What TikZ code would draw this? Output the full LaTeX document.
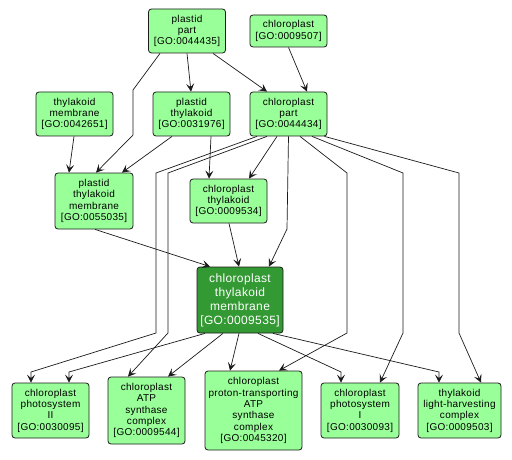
\documentclass[tikz,border=0pt]{standalone}
\usepackage{fontspec}
\setsansfont{Liberation Sans}[LetterSpace=3]
\usepackage{tikz}
\usetikzlibrary{positioning,arrows.meta,calc}
\definecolor{ink}      {HTML}{1A1A1A}
\definecolor{leaf}     {HTML}{99FF99}
\definecolor{forest}   {HTML}{339933}
\tikzset{
  >=stealth,
  % --- nodes
  term/.style  = {rounded corners=3pt, draw=ink, fill=leaf, align=center,
                  inner sep=2pt, line width=0.8pt, minimum width=77pt,
                  font=\sffamily\fontsize{10}{11.3}\selectfont},
  hit/.style   = {term, fill=forest, text=white, minimum width=86pt,
                  font=\sffamily\fontsize{12}{14}\selectfont},
  % --- edges
  e/.style     = {-{Stealth[length=8pt,width=8pt,inset=3.5pt]}, line width=0.7pt, draw=ink},
}
\begin{document}
\begin{tikzpicture}[x=1pt,y=-1pt]
  \useasboundingbox[fill=white] (0,0) rectangle (512,460);
  % --- top rows
  \node[term,minimum height=44pt] (pp)  at (187,31)    {plastid\\part\\{[GO:0044435]}};
  \node[term,minimum height=32pt] (cl)  at (288.5,31)  {chloroplast\\{[GO:0009507]}};
  \node[term,minimum height=44pt] (tm)  at (74.5,114)  {thylakoid\\membrane\\{[GO:0042651]}};
  \node[term,minimum height=44pt] (pt)  at (191.5,114) {plastid\\thylakoid\\{[GO:0031976]}};
  \node[term,minimum height=44pt] (cp)  at (288.5,114) {chloroplast\\part\\{[GO:0044434]}};
  \node[term,minimum height=56pt,minimum width=78pt] (ptm) at (94,201)
        {plastid\\thylakoid\\membrane\\{[GO:0055035]}};
  \node[term,minimum height=44pt] (ct)  at (228.5,201) {chloroplast\\thylakoid\\{[GO:0009534]}};
  % --- focus term
  \node[hit,minimum height=66pt] (ctm) at (240,300)
        {chloroplast\\thylakoid\\membrane\\{[GO:0009535]}};
  % --- bottom row
  \node[term,minimum height=55pt] (ps2) at (50.5,410.5) {chloroplast\\photosystem\\II\\{[GO:0030095]}};
  \node[term,minimum height=67pt] (atp) at (146.5,410.5)
        {chloroplast\\ATP\\synthase\\complex\\{[GO:0009544]}};
  \node[term,minimum height=79pt,minimum width=97pt] (prot) at (253.5,410.5)
        {chloroplast\\proton-transporting\\ATP\\synthase\\complex\\{[GO:0045320]}};
  \node[term,minimum height=55pt,minimum width=78pt] (ps1) at (360,410.5)
        {chloroplast\\photosystem\\I\\{[GO:0030093]}};
  \node[term,minimum height=55pt,minimum width=83pt] (lhc) at (459.5,410.5)
        {thylakoid\\light-harvesting\\complex\\{[GO:0009503]}};
  % --- edges into the upper terms
  \draw[e] ([xshift=-27pt]pp.south) -- (133,90) -- (133,135) -- ([xshift=2pt]ptm.north);
  \draw[e] (pp.south) -- ([xshift=-0.5pt]pt.north);
  \draw[e] ([xshift=26pt]pp.south) -- ([xshift=-21.5pt]cp.north);
  \draw[e] (cl.south) -- ([xshift=18.5pt]cp.north);
  \draw[e] ([xshift=-0.5pt]tm.south) -- ([xshift=-25pt]ptm.north);
  \draw[e] ([xshift=-19.5pt]pt.south) -- ([xshift=28pt]ptm.north);
  \draw[e] ([xshift=19.5pt]pt.south) -- ([xshift=-19.5pt]ct.north);
  \draw[e] ([xshift=-11.5pt]cp.south) -- ([xshift=20.5pt]ct.north);
  \draw[e] (cp.south) -- (287,229) -- ([xshift=29pt]ctm.north);
  \draw[e] ([xshift=1pt]ptm.south) -- ([xshift=-30pt]ctm.north);
  \draw[e] ([xshift=0.5pt]ct.south) -- ([xshift=-1pt]ctm.north);
  % --- long edges from chloroplast part
  \draw[e] ([xshift=-31.5pt]cp.south) -- (156,173) -- (156,333) -- (31,372) -- ([xshift=-19.5pt]ps2.north);
  \draw[e] ([xshift=-21.5pt]cp.south) -- (168,173) -- (168,333) -- ([xshift=-18.5pt]atp.north);
  \draw[e] ([xshift=11.5pt]cp.south) -- (347,173) -- (347,333) -- ([xshift=25.5pt]prot.north);
  \draw[e] ([xshift=23.5pt]cp.south) -- (403,173) -- (403,333) -- ([xshift=20pt]ps1.north);
  \draw[e] ([xshift=36pt]cp.south) -- (459,173) -- (459,333) -- ([xshift=21.5pt]lhc.north);
  % --- edges out of the focus term
  \draw[e] ([xshift=-35pt]ctm.south) -- (69,372) -- ([xshift=18.5pt]ps2.north);
  \draw[e] ([xshift=-17pt]ctm.south) -- ([xshift=21.5pt]atp.north);
  \draw[e] ([xshift=-1pt]ctm.south) -- ([xshift=-23.5pt]prot.north);
  \draw[e] ([xshift=18pt]ctm.south) -- (341,372) -- ([xshift=-19pt]ps1.north);
  \draw[e] ([xshift=33pt]ctm.south) -- (439,372) -- ([xshift=-20.5pt]lhc.north);
\end{tikzpicture}
\end{document}
